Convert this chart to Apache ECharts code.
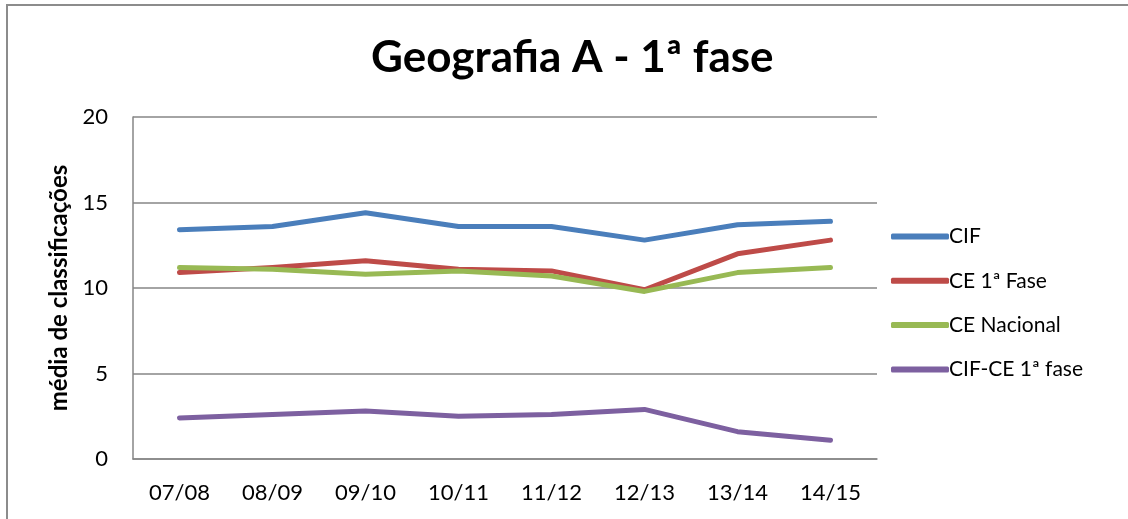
<!DOCTYPE html>
<html>
<head>
<meta charset="utf-8">
<script src="https://cdn.jsdelivr.net/npm/echarts@6/dist/echarts.min.js"></script>
<style>
html,body{margin:0;padding:0;background:#fff;}
#c{width:1128px;height:519px;}
</style>
</head>
<body>
<div id="c"></div>
<script>
var categories = ['07/08','08/09','09/10','10/11','11/12','12/13','13/14','14/15'];
var cif        = [13.4, 13.6, 14.4, 13.6, 13.6, 12.8, 13.7, 13.9];
var ce1        = [10.9, 11.2, 11.6, 11.1, 11.0, 9.9, 12.0, 12.8];
var ceNac      = [11.2, 11.1, 10.8, 11.0, 10.7, 9.8, 10.9, 11.2];
var cifCe      = [2.4, 2.6, 2.8, 2.5, 2.6, 2.9, 1.6, 1.1];
var seriesNames = ['CIF', 'CE 1ª Fase', 'CE Nacional', 'CIF-CE 1ª fase'];
var colors = ['#4A7EBB', '#BE4B48', '#98B954', '#7D60A0'];
var FONT = 'Lato, "Open Sans", sans-serif';

var chart = echarts.init(document.getElementById('c'), null, {renderer: 'canvas'});
function mk(name, data, color) {
  return {
    name: name, type: 'line', data: data, symbol: 'none', smooth: false,
    lineStyle: {width: 5, color: color, cap: 'round', join: 'round'},
    itemStyle: {color: color}
  };
}
chart.setOption({
  animation: false,
  backgroundColor: '#fff',
  title: {
    text: 'Geografia A - 1ª fase',
    left: 366, top: 31,
    textStyle: {fontFamily: FONT, fontSize: 44, fontWeight: 'bold', color: '#000'}
  },
  graphic: [{
    type: 'rect', shape: {x: 7, y: 5, width: 1140, height: 540},
    style: {fill: 'none', stroke: '#8c8c8c', lineWidth: 2}, silent: true
  }],
  grid: {left: 133, right: 251, top: 117, bottom: 60, containLabel: false},
  legend: {
    orient: 'vertical', left: 886, top: 221,
    itemWidth: 58, itemHeight: 6, itemGap: 23.3,
    icon: 'roundRect',
    data: seriesNames,
    textStyle: {fontFamily: FONT, fontSize: 21, color: '#000', padding: [0,0,0,-5]}
  },
  xAxis: {
    type: 'category', data: categories, boundaryGap: true,
    axisLine: {lineStyle: {color: '#868686', width: 1.5}},
    axisTick: {show: false},
    axisLabel: {fontFamily: FONT, fontSize: 22, color: '#000', margin: 23}
  },
  yAxis: {
    type: 'value', min: 0, max: 20, interval: 5,
    name: 'média de classificações', nameLocation: 'middle', nameGap: 61, nameRotate: 90,
    nameTextStyle: {fontFamily: FONT, fontSize: 24, fontWeight: 'bold', color: '#000'},
    axisLine: {show: true, lineStyle: {color: '#868686', width: 1.5}},
    axisTick: {show: false},
    splitLine: {lineStyle: {color: '#868686', width: 1.5}},
    axisLabel: {fontFamily: FONT, fontSize: 22, color: '#000', margin: 25}
  },
  series: [
    mk(seriesNames[0], cif, colors[0]),
    mk(seriesNames[1], ce1, colors[1]),
    mk(seriesNames[2], ceNac, colors[2]),
    mk(seriesNames[3], cifCe, colors[3])
  ]
});
</script>
</body>
</html>
